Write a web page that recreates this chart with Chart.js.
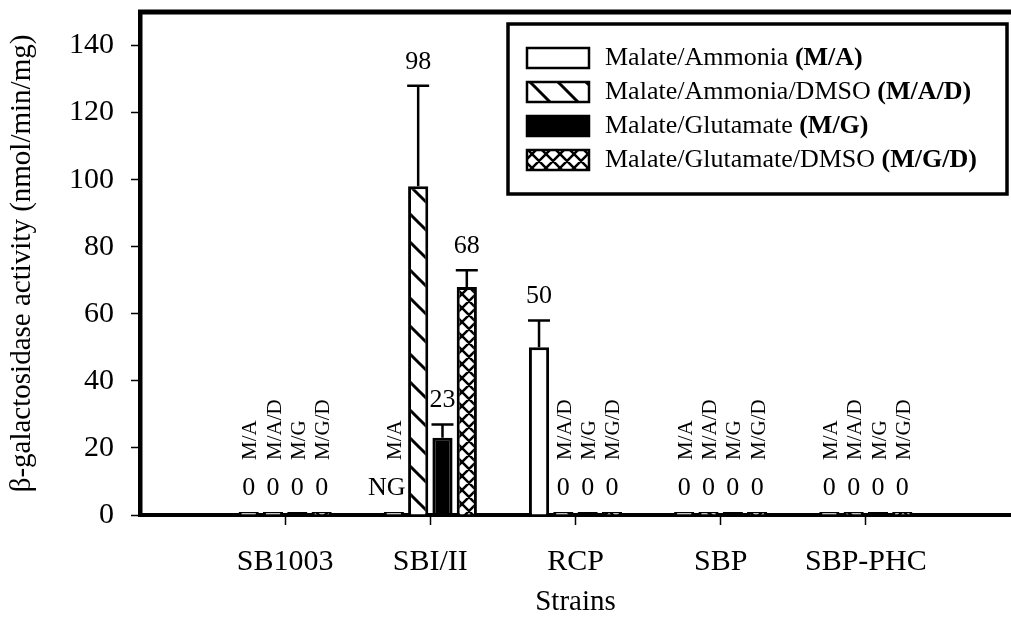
<!DOCTYPE html>
<html>
<head>
<meta charset="utf-8">
<script src="https://cdn.jsdelivr.net/npm/chart.js@4"></script>
<style>
  body { margin: 0; background: #fff; }
  canvas { display: block; }
</style>
</head>
<body>
<canvas id="chart" width="1011" height="633"></canvas>
<script>
// categories (empty slots at both ends give the gap before SB1003)
const strains = ['', 'SB1003', 'SBI/II', 'RCP', 'SBP', 'SBP-PHC', ''];
const seriesNames = ['Malate/Ammonia', 'Malate/Ammonia/DMSO', 'Malate/Glutamate', 'Malate/Glutamate/DMSO'];
const seriesCodes = ['M/A', 'M/A/D', 'M/G', 'M/G/D'];

// β-galactosidase activity
const maValues = [null, 0, 0, 50, 0, 0, null];
const madValues = [null, 0, 98, 0, 0, 0, null];
const mgValues = [null, 0, 23, 0, 0, 0, null];
const mgdValues = [null, 0, 68, 0, 0, 0, null];

// upper error bars
const maErrors = [0, 0, 0, 8, 0, 0, 0];
const madErrors = [0, 0, 30, 0, 0, 0, 0];
const mgErrors = [0, 0, 4, 0, 0, 0, 0];
const mgdErrors = [0, 0, 5, 0, 0, 0, 0];

// text notes replacing the value label
const maNotes = [null, null, 'NG', null, null, null, null];

const yTicks = [0, 20, 40, 60, 80, 100, 120, 140];

const serif = '"Liberation Serif", "Times New Roman", serif';
Chart.defaults.font.family = serif;
Chart.defaults.color = '#000';

function makePattern(kind) {
  const s = kind === 'diag' ? 28 : 14;
  const c = document.createElement('canvas');
  c.width = s; c.height = s;
  const g = c.getContext('2d');
  g.fillStyle = '#fff';
  g.fillRect(0, 0, s, s);
  g.strokeStyle = '#000';
  g.lineWidth = kind === 'diag' ? 3 : 2.5;
  g.beginPath();
  for (const k of [-s, 0, s]) {
    g.moveTo(k - 2, -2); g.lineTo(k + s + 2, s + 2);
    if (kind === 'cross') { g.moveTo(k + s + 2, -2); g.lineTo(k - 2, s + 2); }
  }
  g.stroke();
  return g.createPattern(c, 'repeat');
}

const fills = ['#fff', makePattern('diag'), '#000', makePattern('cross')];
const values = [maValues, madValues, mgValues, mgdValues];
const errors = [maErrors, madErrors, mgErrors, mgdErrors];
const notes = [maNotes, [], [], []];

// error bars + value labels + rotated condition codes
const annotate = {
  id: 'annotate',
  afterDatasetsDraw(chart) {
    const ctx = chart.ctx;
    const y = chart.scales.y;
    ctx.save();
    chart.data.datasets.forEach((ds, i) => {
      const meta = chart.getDatasetMeta(i);
      meta.data.forEach((bar, j) => {
        const v = values[i][j];
        if (v === null) return;
        const err = errors[i][j];
        const top = y.getPixelForValue(v + err);
        if (err > 0) {
          ctx.strokeStyle = '#000';
          ctx.lineWidth = 2.5;
          ctx.beginPath();
          ctx.moveTo(bar.x, bar.y);
          ctx.lineTo(bar.x, top);
          ctx.moveTo(bar.x - 11, top);
          ctx.lineTo(bar.x + 11, top);
          ctx.stroke();
        }
        const note = notes[i][j];
        ctx.fillStyle = '#000';
        ctx.font = '26px ' + serif;
        ctx.textAlign = 'center';
        ctx.textBaseline = 'middle';
        ctx.fillText(note || String(v), bar.x - (note ? 7 : 0), top - (v === 0 ? 27 : 24));
        if (v === 0) {
          ctx.save();
          ctx.translate(bar.x + 2, 460);
          ctx.rotate(-Math.PI / 2);
          ctx.font = '21px ' + serif;
          ctx.textAlign = 'left';
          ctx.fillText(seriesCodes[i], 0, 0);
          ctx.restore();
        }
      });
    });
    ctx.restore();
  }
};

// boxed legend inside the plot + top frame line
const frameLegend = {
  id: 'frameLegend',
  afterDraw(chart) {
    const ctx = chart.ctx;
    const a = chart.chartArea;
    ctx.save();
    ctx.strokeStyle = '#000';
    ctx.lineWidth = 5;
    ctx.beginPath();
    ctx.moveTo(a.left - 2, a.top);
    ctx.lineTo(a.right, a.top);
    ctx.stroke();

    ctx.lineWidth = 3.5;
    ctx.strokeRect(508, 24, 499, 170);
    seriesNames.forEach((name, i) => {
      const cy = 58 + i * 34;
      ctx.fillStyle = fills[i];
      ctx.fillRect(527, cy - 10, 62, 20);
      ctx.lineWidth = 2.5;
      ctx.strokeRect(527, cy - 10, 62, 20);
      ctx.fillStyle = '#000';
      ctx.textAlign = 'left';
      ctx.textBaseline = 'middle';
      ctx.font = '26px ' + serif;
      const txt = name + ' ';
      ctx.fillText(txt, 605, cy);
      const w = ctx.measureText(txt).width;
      ctx.font = 'bold 26px ' + serif;
      ctx.fillText('(' + seriesCodes[i] + ')', 605 + w, cy);
    });
    ctx.restore();
  }
};

new Chart(document.getElementById('chart'), {
  type: 'bar',
  data: {
    labels: strains,
    datasets: values.map((vals, i) => ({
      label: seriesNames[i],
      data: vals,
      backgroundColor: fills[i],
      borderColor: '#000',
      borderWidth: 3,
      minBarLength: 3,
      categoryPercentage: 0.67,
      barPercentage: 0.83
    }))
  },
  options: {
    responsive: false,
    animation: false,
    devicePixelRatio: 1,
    layout: { padding: { left: 0, right: 0, top: 12, bottom: 0 } },
    plugins: { legend: { display: false }, tooltip: { enabled: false } },
    scales: {
      x: {
        offset: false,
        grid: {
          offset: false,
          drawOnChartArea: false,
          drawTicks: true,
          tickLength: 10,
          tickWidth: 1.5,
          tickColor: (c) => (c.index === 0 || c.index === strains.length - 1) ? 'rgba(0,0,0,0)' : '#000'
        },
        border: { display: true, color: '#000', width: 4 },
        ticks: { font: { size: 30 }, color: '#000', padding: 19, maxRotation: 0, autoSkip: false },
        title: { display: true, text: 'Strains', font: { size: 29 }, color: '#000', padding: { top: 13, bottom: 13 } },
        afterFit: (s) => { s.height = 118; s.paddingLeft = 0; s.paddingRight = 0; }
      },
      y: {
        min: 0,
        max: 150,
        ticks: { stepSize: 20, font: { size: 30 }, color: '#000', padding: 17 },
        afterBuildTicks: (s) => { s.ticks = yTicks.map(v => ({ value: v })); },
        grid: { drawOnChartArea: false, drawTicks: true, tickLength: 9, tickWidth: 1.5, tickColor: '#000' },
        border: { display: true, color: '#000', width: 4.5 },
        title: { display: true, text: 'β-galactosidase activity (nmol/min/mg)', font: { size: 29 }, color: '#000', padding: { top: 5, bottom: 5 } },
        afterFit: (s) => { s.width = 140; s.paddingTop = 0; s.paddingBottom = 0; }
      }
    }
  },
  plugins: [annotate, frameLegend]
});
</script>
</body>
</html>
